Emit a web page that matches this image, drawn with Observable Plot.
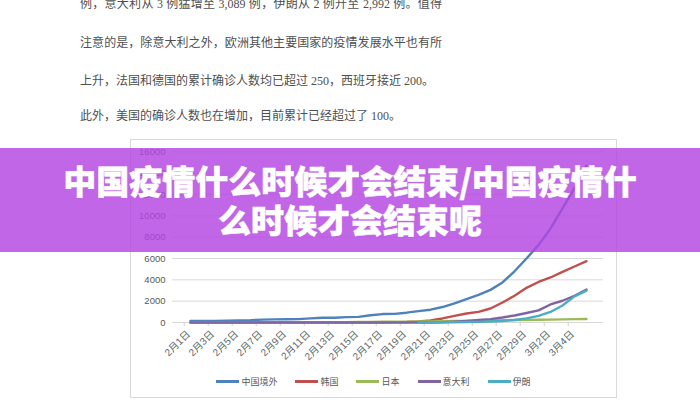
<!DOCTYPE html>
<html>
<head>
<meta charset="utf-8">
<script src="https://cdn.jsdelivr.net/npm/d3@7"></script>
<script src="https://cdn.jsdelivr.net/npm/@observablehq/plot@0.6"></script>
<style>
  html, body { margin: 0; padding: 0; background: #fff; width: 700px; height: 400px; overflow: hidden; }
  .txt { position: absolute; left: 80px; font-family: "Liberation Serif", "Noto Sans CJK SC", serif; font-size: 12px; line-height: 16px; color: #4f4f4f; white-space: nowrap; }
  .just { width: 362px; text-align: justify; text-align-last: justify; }
  #frame { position: absolute; left: 130px; top: 139px; width: 487px; height: 259px; box-sizing: border-box; border: 1px solid #d9d9d9; }
  #chart { position: absolute; left: 130px; top: 139px; }
  #legend { position: absolute; left: 130px; top: 375px; width: 487px; display: flex; justify-content: center; align-items: center; font-family: "Liberation Sans", "Noto Sans CJK SC", sans-serif; font-size: 9px; color: #595959; }
  .item { display: flex; align-items: center; margin: 0 9px; }
  .sw { width: 23px; height: 3px; margin-right: 2px; }
  #banner { position: absolute; left: 0; top: 148px; width: 700px; height: 104px; background: rgba(178, 68, 226, 0.82); color: #fff; font-family: "Noto Sans CJK SC", sans-serif; font-weight: 900; font-size: 33px; line-height: 39px; text-align: center; display: flex; flex-direction: column; justify-content: center; -webkit-text-stroke: 0.5px #fff; }
</style>
</head>
<body>
<div class="txt just" style="top:-4px">例，意大利从 3 例猛增至 3,089 例，伊朗从 2 例升至 2,992 例。值得</div>
<div class="txt just" style="top:35px">注意的是，除意大利之外，欧洲其他主要国家的疫情发展水平也有所</div>
<div class="txt" style="top:73px">上升，法国和德国的累计确诊人数均已超过 250，西班牙接近 200。</div>
<div class="txt" style="top:108px">此外，美国的确诊人数也在增加，目前累计已经超过了 100。</div>
<div id="frame"></div>
<div id="chart"></div>
<div id="legend"></div>
<div id="banner"><div>中国疫情什么时候才会结束/中国疫情什</div><div>么时候才会结束呢</div></div>
<script>
const dates = ["2月1日","2月2日","2月3日","2月4日","2月5日","2月6日","2月7日","2月8日","2月9日","2月10日",
  "2月11日","2月12日","2月13日","2月14日","2月15日","2月16日","2月17日","2月18日","2月19日","2月20日",
  "2月21日","2月22日","2月23日","2月24日","2月25日","2月26日","2月27日","2月28日","2月29日",
  "3月1日","3月2日","3月3日","3月4日","3月5日"];
const tickLabels = ["2月1日","2月3日","2月5日","2月7日","2月9日","2月11日","2月13日","2月15日","2月17日",
  "2月19日","2月21日","2月23日","2月25日","2月27日","2月29日","3月2日","3月4日"];
const yTicks = [0, 2000, 4000, 6000, 8000, 10000, 12000, 14000, 16000];

const seriesNames = ["中国境外", "韩国", "日本", "意大利", "伊朗"];
const seriesColors = ["#4F81BD", "#C0504D", "#9BBB59", "#8064A2", "#4BACC6"];

const outsideChina = [150,155,155,165,190,215,270,290,305,320,390,440,450,500,530,680,790,810,920,1070,1200,1450,1800,2190,2590,3060,3750,4800,6000,7250,8800,10700,12600,14700];
const korea = [12,15,15,16,18,23,24,24,25,27,28,28,28,28,28,29,30,31,51,104,204,380,620,840,1000,1310,1870,2500,3250,3800,4220,4750,5250,5750];
const japan = [20,20,20,20,22,25,25,25,26,26,26,28,28,29,41,53,65,74,84,94,105,122,144,156,164,186,210,230,241,256,274,293,317,331];
const italy = [2,2,2,2,2,2,3,3,3,3,3,3,3,3,3,3,3,3,3,3,3,20,79,155,230,320,470,655,890,1130,1690,2040,2500,3089];
const iran = [null,null,null,null,null,null,null,null,null,null,null,null,null,null,null,null,null,null,null,2,5,18,28,43,61,95,145,240,390,620,990,1600,2450,2992];

const seriesValues = [outsideChina, korea, japan, italy, iran];
const rows = [];
seriesNames.forEach((name, si) => {
  seriesValues[si].forEach((v, i) => {
    if (v !== null) rows.push({date: dates[i], series: name, value: v});
  });
});

const chart = Plot.plot({
  width: 487,
  height: 230,
  marginLeft: 42,
  marginRight: 14,
  marginTop: 12.3,
  marginBottom: 47,
  style: {fontFamily: '"Liberation Sans", "Noto Sans CJK SC", sans-serif', fontSize: "9.5px", color: "#595959", background: "transparent"},
  x: {type: "point", domain: dates, padding: 0.53, label: null},
  y: {domain: [0, 16000], label: null},
  color: {domain: seriesNames, range: seriesColors},
  marks: [
    Plot.gridY(yTicks, {stroke: "#d9d9d9", strokeOpacity: 1}),
    Plot.axisY(yTicks, {tickSize: 0, tickPadding: 7, label: null, fill: "#595959", tickFormat: d => String(d)}),
    Plot.ruleY([0], {stroke: "#d9d9d9"}),
    Plot.axisX(tickLabels, {tickSize: 4, tickFormat: () => "", dx: -6.3, stroke: "#d0d0d0", label: null}),
    Plot.axisX(tickLabels, {tickSize: 0, tickPadding: 10, tickRotate: -45, label: null, fill: "#666", fontSize: 10, dx: -2}),
    Plot.line(rows, {x: "date", y: "value", stroke: "series", z: "series", strokeWidth: 2.4})
  ]
});
document.getElementById("chart").appendChild(chart);

const legend = document.getElementById("legend");
seriesNames.forEach((name, i) => {
  const item = document.createElement("div");
  item.className = "item";
  const sw = document.createElement("div");
  sw.className = "sw";
  sw.style.background = seriesColors[i];
  const t = document.createElement("span");
  t.textContent = name;
  item.appendChild(sw);
  item.appendChild(t);
  legend.appendChild(item);
});
</script>
</body>
</html>
